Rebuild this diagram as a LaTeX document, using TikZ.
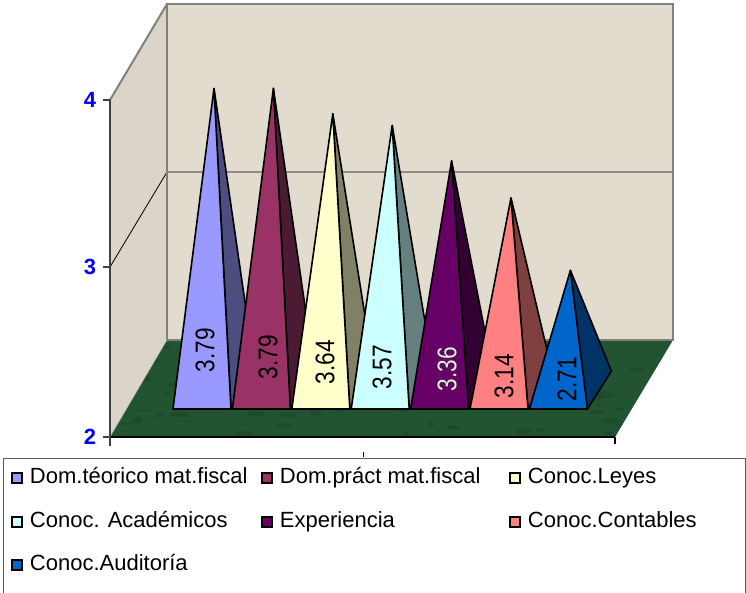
\documentclass[tikz,border=0pt]{standalone}
\usepackage{fontspec}
\setmainfont{Liberation Sans}
\usepackage{tikz}
\usetikzlibrary{positioning}

\definecolor{wallc}{RGB}{226,220,207}
\definecolor{floorc}{RGB}{34,84,50}
\definecolor{floorl}{RGB}{90,150,105}
\definecolor{floord}{RGB}{18,52,30}
\definecolor{edgec}{RGB}{128,128,128}
\definecolor{p1f}{HTML}{9999FF}\definecolor{p1s}{HTML}{4D4D80}
\definecolor{p2f}{HTML}{993366}\definecolor{p2s}{HTML}{4D1A33}
\definecolor{p3f}{HTML}{FFFFCC}\definecolor{p3s}{HTML}{808066}
\definecolor{p4f}{HTML}{CCFFFF}\definecolor{p4s}{HTML}{668080}
\definecolor{p5f}{HTML}{660066}\definecolor{p5s}{HTML}{330033}
\definecolor{p6f}{HTML}{FF8080}\definecolor{p6s}{HTML}{804040}
\definecolor{p7f}{HTML}{0066CC}\definecolor{p7s}{HTML}{003366}
\definecolor{lab5}{HTML}{CCFFCC}

\tikzset{
  wallline/.style={draw=edgec,line width=2pt},
  pyr/.style={draw=black,line width=1.6pt,line join=round},
  vallabel/.style={rotate=90,font=\fontsize{27}{29}\selectfont,inner sep=0pt},
  axlabel/.style={text=blue,font=\fontsize{22}{24}\selectfont\bfseries,inner sep=0pt},
  legmark/.style={draw=black,line width=1.5pt,minimum size=10pt,inner sep=0pt},
  legtext/.style={font=\fontsize{22}{24}\selectfont,inner sep=0pt,text height=16pt,text depth=5pt,right=7pt of #1}
}

\begin{document}
\begin{tikzpicture}[x=1pt,y=-1pt]
	\useasboundingbox (0,0) rectangle (746,592);
	\fill[wallc] (167,4) rectangle (673,340); %pared fondo
	\fill[wallc!97!black] (110,100)--(167,4)--(167,340)--(110,437)--cycle; %pared izq.
	\draw[line width=0.8pt] (110,267)--(167,172)--(673,172); %linea 3
	\fill[floorc] (110,437)--(167,340)--(673,340)--(615,437)--cycle; %piso
	\begin{scope}
		\clip (110,437)--(167,340)--(673,340)--(615,437)--cycle;
		\pgfmathsetseed{11}
		\foreach \k in {1,...,140}
			\fill[floorl,opacity=0.18,rotate around={-30:(0,0)}] ({110+rnd*565},{340+rnd*97}) ellipse ({3+rnd*8} and {1+rnd*3});
		\foreach \k in {1,...,90}
			\fill[floord,opacity=0.25] ({110+rnd*565},{340+rnd*97}) ellipse ({3+rnd*7} and {1+rnd*3});
	\end{scope}
	\draw[wallline] (167,340)--(167,4)--(673,4)--(673,340)--(167,340); %borde fondo
	\draw[wallline] (110,100)--(167,4);
	\draw[edgec!60] (110,437)--(167,340);
	\draw[line width=1.6pt] (110,437)--(615,437); %eje x
	\draw[line width=1.2pt] (615,437)--(615,444);
	\draw[line width=1pt] (363,452)--(363,457);
	\draw[edgec!50!black,line width=1.6pt] (110,100)--(110,446); %eje y
	\foreach \yv/\t in {100/4,267/3,437/2}{
		\draw[edgec!50!black,line width=1.2pt] (103,\yv)--(110,\yv);
		\node[axlabel] (ax\t) at (90,\yv) {\t};
	}
	% piramides
	\foreach \v/\fc/\sc/\lx/\ly/\tc [count=\i from 0] in {3.79/p1f/p1s/205/350/black,3.79/p2f/p2s/268/357/black,3.64/p3f/p3s/325/362/black,3.57/p4f/p4s/382/367/black,3.36/p5f/p5s/447/369/lab5,3.14/p6f/p6s/504/376/black,2.71/p7f/p7s/567/379/black}{
		\pgfmathsetmacro{\cx}{202+59.4*\i}
		\pgfmathsetmacro{\ay}{390-168.5*(\v-2)}
		\filldraw[pyr,fill=\sc] ({\cx+29},409)--({\cx+53},371)--({\cx+12},\ay)--cycle;
		\filldraw[pyr,fill=\fc] ({\cx-29},409)--({\cx+29},409)--({\cx+12},\ay)--cycle;
		\node[vallabel,text=\tc] (v\i) at (\lx,\ly) {\scalebox{0.84}[1]{\v}};
	}
	% leyenda
	\draw[edgec!70!black,line width=1pt] (3,596)--(3,458)--(745,458)--(745,596);
	\node[legmark,fill=p1f] (m1) at (17,478) {};
	\node[legtext=m1] (t1) {Dom.téorico mat.fiscal};
	\node[legmark,fill=p2f] (m2) at (267,478) {};
	\node[legtext=m2] (t2) {Dom.práct mat.fiscal};
	\node[legmark,fill=p3f] (m3) at (515,478) {};
	\node[legtext=m3] (t3) {Conoc.Leyes};
	\node[legmark,fill=p4f] (m4) at (17,522) {};
	\node[legtext=m4] (t4) {Conoc. Académicos};
	\node[legmark,fill=p5f] (m5) at (267,522) {};
	\node[legtext=m5] (t5) {Experiencia};
	\node[legmark,fill=p6f] (m6) at (515,522) {};
	\node[legtext=m6] (t6) {Conoc.Contables};
	\node[legmark,fill=p7f] (m7) at (17,565) {};
	\node[legtext=m7] (t7) {Conoc.Auditoría};
\end{tikzpicture}
\end{document}
